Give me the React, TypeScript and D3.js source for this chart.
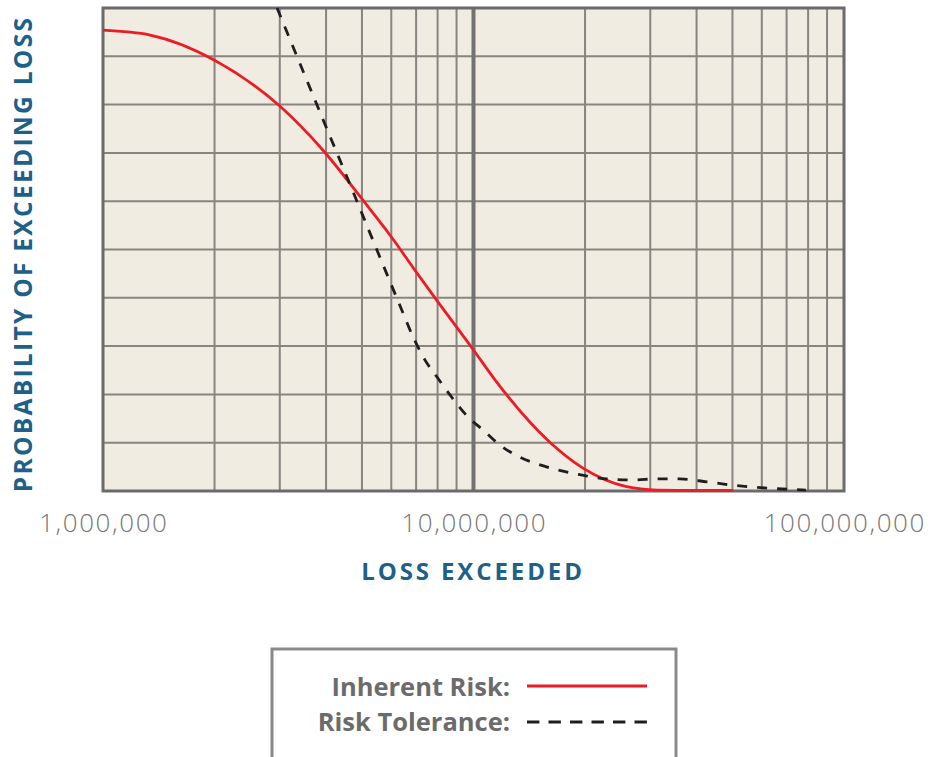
import React from "react";
import * as d3 from "d3";

// Loss values in millions, probabilities 0..1
const inherentLossM = [1.0, 1.34, 2.0, 3.0, 3.92, 5.03, 5.95, 7.04, 7.87, 10.0, 11.43, 16.07, 19.7, 25.9, 31.3, 40.0, 50.2];
const inherentProb = [0.954, 0.944, 0.892, 0.797, 0.706, 0.602, 0.53, 0.451, 0.4, 0.292, 0.23, 0.101, 0.048, 0.009, 0.002, 0.001, 0.001];

const toleranceLossM = [2.95, 3.4, 3.97, 4.64, 5.42, 6.33, 6.87, 7.4, 7.97, 8.64, 9.67, 10.62, 11.79, 13.35, 15.12, 17.44, 20.25, 22.93, 26.95, 31.28, 36.08, 42.66, 50.1, 61.9, 78.9];
const toleranceProb = [1.0, 0.885, 0.76, 0.635, 0.509, 0.384, 0.319, 0.271, 0.236, 0.199, 0.153, 0.126, 0.095, 0.07, 0.054, 0.041, 0.031, 0.025, 0.023, 0.025, 0.025, 0.019, 0.012, 0.006, 0.002];

const xTickValues = [1e6, 1e7, 1e8];
const xTickLabels = ["1,000,000", "10,000,000", "100,000,000"];
const yGridValues = [0, 0.1, 0.2, 0.3, 0.4, 0.5, 0.6, 0.7, 0.8, 0.9, 1.0];

const seriesNames = ["Inherent Risk:", "Risk Tolerance:"];

export default function App() {
  const W = 940;
  const H = 757;
  const left = 103;
  const right = 844;
  const top = 8;
  const bottom = 491;

  const x = d3.scaleLog().domain([1e6, 1e8]).range([left, right]);
  const y = d3.scaleLinear().domain([0, 1]).range([bottom, top]);

  const minorTicks: number[] = [];
  for (let dec = 1e6; dec < 1e8; dec *= 10) {
    for (let k = 2; k <= 9; k++) minorTicks.push(k * dec);
  }

  const line = d3
    .line<[number, number]>()
    .x((d) => x(d[0]))
    .y((d) => y(d[1]))
    .curve(d3.curveMonotoneX);

  const inherent: [number, number][] = inherentLossM.map((v, i) => [v * 1e6, inherentProb[i]]);
  const tolerance: [number, number][] = toleranceLossM.map((v, i) => [v * 1e6, toleranceProb[i]]);

  const gridColor = "#878580";
  const borderColor = "#6b6b6b";
  const blue = "#1d6088";
  const labelFont = "'Open Sans', 'Noto Sans', sans-serif";

  return (
    <div style={{ position: "absolute", left: 0, top: 0 }}>
      <svg width={W} height={H} style={{ display: "block" }}>
        <rect x={0} y={0} width={W} height={H} fill="#ffffff" />
        <rect x={left} y={top} width={right - left} height={bottom - top} fill="#f1ece2" />
        {yGridValues.map((v) => (
          <line key={"h" + v} x1={left} x2={right} y1={y(v)} y2={y(v)} stroke={gridColor} strokeWidth={2} />
        ))}
        {minorTicks.map((v) => (
          <line key={"v" + v} x1={x(v)} x2={x(v)} y1={top} y2={bottom} stroke={gridColor} strokeWidth={2} />
        ))}
        <line x1={x(1e7)} x2={x(1e7)} y1={top} y2={bottom} stroke="#737373" strokeWidth={4} />
        <rect
          x={left}
          y={top}
          width={right - left}
          height={bottom - top}
          fill="none"
          stroke={borderColor}
          strokeWidth={3}
        />
        <path d={line(inherent) || ""} fill="none" stroke="#ed1c24" strokeWidth={2.8} />
        <path
          d={line(tolerance) || ""}
          fill="none"
          stroke="#1e1e1e"
          strokeWidth={2.8}
          strokeDasharray="10,10"
        />

        {xTickValues.map((v, i) => (
          <text
            key={"xt" + v}
            x={x(v) + 0.8}
            y={532}
            textAnchor="middle"
            fontFamily={labelFont}
            fontWeight={300}
            fontSize={26}
            letterSpacing={1.6}
            fill="#777777"
          >
            {xTickLabels[i]}
          </text>
        ))}
        <text
          x={473}
          y={580}
          textAnchor="middle"
          fontFamily={labelFont}
          fontWeight={700}
          fontSize={24}
          letterSpacing={2.9}
          fill={blue}
        >
          LOSS EXCEEDED
        </text>
        <text
          transform={`translate(32, ${(15 + 493) / 2}) rotate(-90)`}
          textAnchor="middle"
          fontFamily={labelFont}
          fontWeight={700}
          fontSize={24.5}
          letterSpacing={2.3}
          fill={blue}
        >
          PROBABILITY OF EXCEEDING LOSS
        </text>

        <rect x={272} y={649} width={404} height={160} fill="#ffffff" stroke="#8a8a8a" strokeWidth={3} />
        <text
          x={510}
          y={696}
          textAnchor="end"
          fontFamily={labelFont}
          fontWeight={700}
          fontSize={25.5}
          fill="#6b6b6b"
        >
          {seriesNames[0]}
        </text>
        <line x1={527} x2={647} y1={686} y2={686} stroke="#ed1c24" strokeWidth={2.8} />
        <text
          x={510}
          y={731}
          textAnchor="end"
          fontFamily={labelFont}
          fontWeight={700}
          fontSize={25.5}
          fill="#6b6b6b"
        >
          {seriesNames[1]}
        </text>
        <line
          x1={527}
          x2={647}
          y1={722}
          y2={722}
          stroke="#1e1e1e"
          strokeWidth={2.8}
          strokeDasharray="12.4,9.1"
        />
      </svg>
    </div>
  );
}
